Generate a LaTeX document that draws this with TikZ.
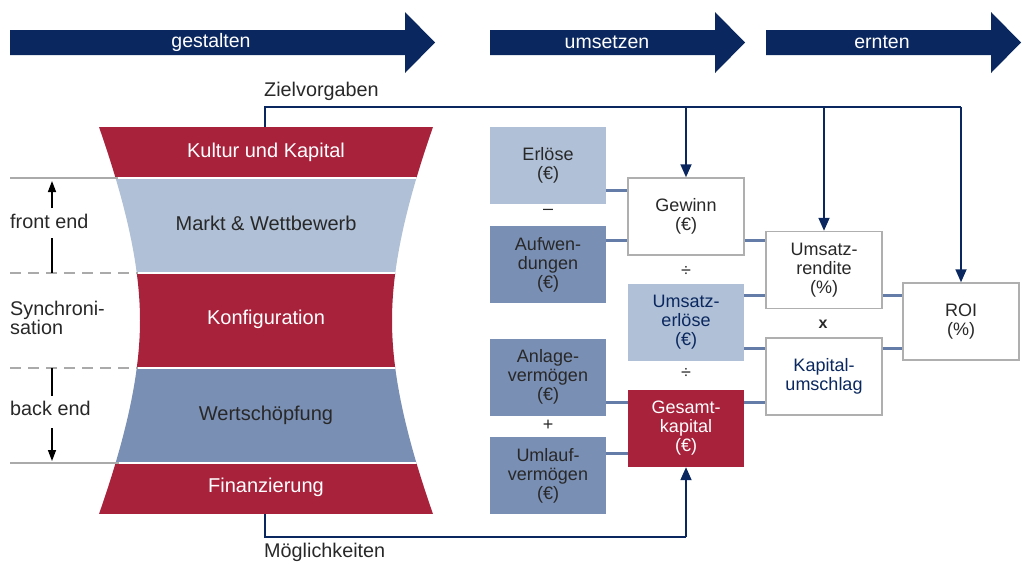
\documentclass[tikz,border=0pt]{standalone}
\usepackage{fontspec}
\setmainfont{Liberation Sans}
\usetikzlibrary{arrows.meta}
\definecolor{navy}{RGB}{10,40,95}
\definecolor{fred}{RGB}{168,34,60}
\definecolor{flight}{RGB}{176,192,214}
\definecolor{fmid}{RGB}{122,143,180}
\definecolor{conncol}{RGB}{100,125,168}
\definecolor{boxgray}{RGB}{175,175,175}
\definecolor{linegray}{RGB}{170,170,170}
\definecolor{txtdark}{RGB}{40,40,40}
\begin{document}
\begin{tikzpicture}[x=1pt,y=-1pt,
  arrtxt/.style={font=\fontsize{19.5}{22}\selectfont, text=white, inner sep=0pt},
  lbl/.style={font=\fontsize{19.8}{22}\selectfont, text=txtdark, inner sep=0pt, align=left},
  funtxt/.style={font=\fontsize{20}{24}\selectfont, inner sep=0pt},
  box/.style={minimum width=116pt, minimum height=77pt, inner sep=0pt, align=center,
              font=\fontsize{18}{19}\selectfont, text=txtdark},
  wbox/.style={box, fill=white, draw=boxgray, line width=1.5pt},
  sign/.style={font=\fontsize{18}{20}\selectfont, text=txtdark, inner sep=0pt},
  conn/.style={draw=conncol, line width=3pt},
  navyline/.style={draw=navy, line width=1.8pt},
  navyarrow/.style={navyline, -{Triangle[length=13pt,width=11pt]}},
  blkarrow/.style={draw=black, line width=1.4pt, -{Triangle[length=11pt,width=8pt]}},
  blkline/.style={draw=black, line width=1.4pt},
  gsolid/.style={draw=linegray, line width=2.8pt},
  gdash/.style={draw=linegray, line width=2.8pt, dash pattern=on 11pt off 7pt}
]
\useasboundingbox (0,0) rectangle (1022,563);

% ---- top process arrows
\fill[navy] (10,30) -- (405,30) -- (405,12) -- (435,42.5) -- (405,73) -- (405,55) -- (10,55) -- cycle;
\node[arrtxt] (t1) at (211,42) {gestalten};
\fill[navy] (490,30) -- (715,30) -- (715,12) -- (745,42.5) -- (715,73) -- (715,55) -- (490,55) -- cycle;
\node[arrtxt] (t2) at (607,42) {umsetzen};
\fill[navy] (766,30) -- (991,30) -- (991,12) -- (1021,42.5) -- (991,73) -- (991,55) -- (766,55) -- cycle;
\node[arrtxt] (t3) at (882,42) {ernten};

% ---- funnel
\begin{scope}
\clip (99,127) -- (433,127) .. controls (404,210) and (392,270) .. (392,320.5)
      .. controls (392,371) and (404,431) .. (433,514) -- (99,514)
      .. controls (128,431) and (140,371) .. (140,320.5)
      .. controls (140,270) and (128,210) .. (99,127) -- cycle;
\fill[fred] (0,127) rectangle (540,178);
\fill[flight] (0,178) rectangle (540,273);
\fill[fred] (0,273) rectangle (540,368);
\fill[fmid] (0,368) rectangle (540,463);
\fill[fred] (0,463) rectangle (540,514);
\draw[white, line width=2pt] (0,178) -- (540,178) (0,273) -- (540,273)
      (0,368) -- (540,368) (0,463) -- (540,463);
\end{scope}
\node[funtxt, text=white] (kultur) at (266,152) {Kultur und Kapital};
\node[funtxt, text=txtdark] (markt) at (266,223) {Markt \& Wettbewerb};
\node[funtxt, text=white] (konfig) at (266,319) {Konfiguration};
\node[funtxt, text=txtdark] (wert) at (266,415) {Wertschöpfung};
\node[funtxt, text=white] (finanz) at (266,487) {Finanzierung};
\coordinate (ftop) at (265,127);
\coordinate (fbot) at (265,514);

% ---- left annotations
\coordinate (g1a) at (10,178); \coordinate (g1b) at (118,178);
\coordinate (g2a) at (10,273); \coordinate (g2b) at (138,273);
\coordinate (g3a) at (10,368); \coordinate (g3b) at (138,368);
\coordinate (g4a) at (10,463); \coordinate (g4b) at (119,463);
\draw[gsolid] (g1a) -- (g1b);
\draw[gdash] (g2a) -- (g2b);
\draw[gdash] (g3a) -- (g3b);
\draw[gsolid] (g4a) -- (g4b);

\node[lbl, anchor=base west] (front) at (10,228) {front end};
\node[lbl, anchor=base west] (sync1) at (10,315) {Synchroni-};
\node[lbl, anchor=base west] (sync2) at (10,334) {sation};
\node[lbl, anchor=base west] (back) at (10,415) {back end};

\coordinate (fa1) at (52,208); \coordinate (fa2) at (52,181);
\coordinate (fb1) at (52,238); \coordinate (fb2) at (52,273);
\draw[blkarrow] (fa1) -- (fa2);
\draw[blkline] (fb1) -- (fb2);
\coordinate (ba1) at (52,368); \coordinate (ba2) at (52,396);
\coordinate (bb1) at (52,428); \coordinate (bb2) at (52,461);
\draw[blkline] (ba1) -- (ba2);
\draw[blkarrow] (bb1) -- (bb2);

% ---- right boxes
\node[box, fill=flight] (erl) at (548,165.5) {Erlöse\\(€)};
\node[box, fill=fmid] (aufw) at (548,264.5) {Aufwen-\\dungen\\(€)};
\node[box, fill=fmid] (anl) at (548,377) {Anlage-\\vermögen\\(€)};
\node[box, fill=fmid] (uml) at (548,475.5) {Umlauf-\\vermögen\\(€)};
\node[wbox] (gew) at (686,216.5) {Gewinn\\(€)};
\node[box, fill=flight, text=navy] (ums) at (686,322) {Umsatz-\\erlöse\\(€)};
\node[box, fill=fred, text=white] (ges) at (686,428.5) {Gesamt-\\kapital\\(€)};
\node[wbox] (ur) at (824,270) {Umsatz-\\rendite\\(\%)};
\node[wbox, text=navy] (ku) at (824,376.5) {Kapital-\\umschlag};
\node[wbox] (roi) at (961,321.5) {ROI\\(\%)};

\node[sign] (s1) at (548,212) {–};
\node[sign] (s2) at (548,425) {+};
\node[sign] (s3) at (686,271) {÷};
\node[sign] (s4) at (686,373) {÷};
\node[sign, font=\fontsize{16}{18}\selectfont\bfseries] (s5) at (823,324) {x};

% ---- connectors
\coordinate (y190) at (0,190);
\coordinate (y240) at (0,240);
\coordinate (y295) at (0,295);
\coordinate (y348) at (0,348);
\coordinate (y402) at (0,402);
\coordinate (y453) at (0,453);
\draw[conn] (erl.east |- y190) -- (gew.west |- y190);
\draw[conn] (aufw.east |- y240) -- (gew.west |- y240);
\draw[conn] (gew.east |- y240) -- (ur.west |- y240);
\draw[conn] (ums.east |- y295) -- (ur.west |- y295);
\draw[conn] (ums.east |- y348) -- (ku.west |- y348);
\draw[conn] (anl.east |- y402) -- (ges.west |- y402);
\draw[conn] (uml.east |- y453) -- (ges.west |- y453);
\draw[conn] (ges.east |- y402) -- (ku.west |- y402);
\draw[conn] (ur.east |- y295) -- (roi.west |- y295);
\draw[conn] (ku.east |- y348) -- (roi.west |- y348);

% ---- Zielvorgaben / Moeglichkeiten
\coordinate (ztop) at (0,107);
\coordinate (mbot) at (0,537);
\draw[navyline] (ftop) |- (roi.north |- ztop);
\draw[navyarrow] (roi.north |- ztop) -- (roi.north);
\draw[navyarrow] (gew.north |- ztop) -- (gew.north);
\draw[navyarrow] (ur.north |- ztop) -- (ur.north);
\draw[navyline] (fbot) |- (ges.south |- mbot);
\draw[navyarrow] (ges.south |- mbot) -- (ges.south);
\node[lbl, anchor=base west] (ziel) at (264,96) {Zielvorgaben};
\node[lbl, anchor=base west] (moegl) at (264,557.5) {Möglichkeiten};
\end{tikzpicture}
\end{document}
